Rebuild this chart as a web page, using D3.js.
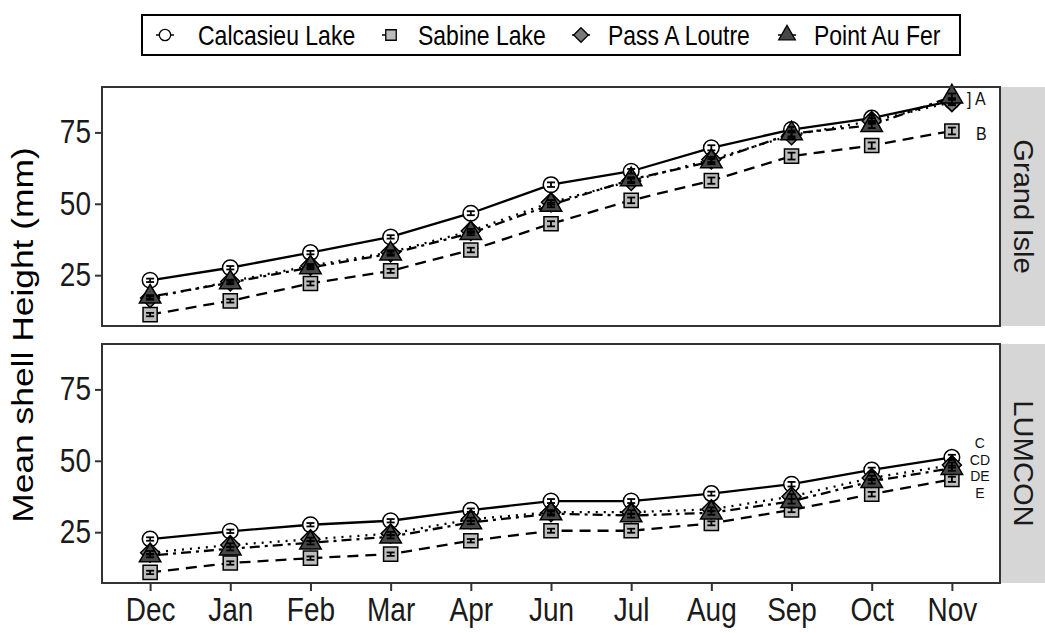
<!DOCTYPE html>
<html>
<head>
<meta charset="utf-8">
<script src="https://cdn.jsdelivr.net/npm/d3@7"></script>
<style>
  body { margin: 0; background: #fff; }
  svg { display: block; }
  text { font-family: "Liberation Sans", Arial, sans-serif; }
</style>
</head>
<body>
<svg id="chart" width="1045" height="633"></svg>
<script>
// Sampling months and sites
const months = ["Dec", "Jan", "Feb", "Mar", "Apr", "Jun", "Jul", "Aug", "Sep", "Oct", "Nov"];
const sites = ["Calcasieu Lake", "Sabine Lake", "Pass A Loutre", "Point Au Fer"];
const panels = ["Grand Isle", "LUMCON"];
const yTicks = [25, 50, 75];

// Mean shell height (mm), Grand Isle grow-out site
const grandIsleCalcasieu = [23.2, 27.6, 32.9, 38.4, 46.7, 56.7, 61.4, 69.6, 76.0, 80.0, 86.0];
const grandIsleSabine    = [11.2, 16.0, 22.1, 26.5, 33.8, 43.0, 51.2, 58.1, 66.7, 70.4, 75.5];
const grandIslePass      = [17.0, 22.8, 28.3, 33.0, 40.5, 50.5, 58.0, 65.5, 74.0, 79.0, 85.6];
const grandIslePoint     = [17.4, 22.4, 27.7, 32.5, 39.7, 49.6, 58.5, 64.8, 74.6, 77.5, 87.5];

// Mean shell height (mm), LUMCON grow-out site
const lumconCalcasieu = [22.6, 25.3, 27.6, 29.0, 32.7, 35.9, 35.9, 38.5, 41.8, 46.8, 51.2];
const lumconSabine    = [10.9, 14.2, 15.9, 17.3, 22.0, 25.5, 25.5, 28.1, 32.8, 38.3, 43.5];
const lumconPass      = [17.8, 20.5, 22.5, 24.5, 29.5, 32.0, 32.0, 33.0, 37.5, 44.0, 48.5];
const lumconPoint     = [16.8, 19.2, 21.3, 23.4, 28.4, 31.5, 30.8, 31.8, 35.8, 42.8, 47.4];

// Standard errors (mm)
const grandIsleSE = [
  [0.6, 0.6, 0.6, 0.6, 0.7, 0.8, 0.8, 0.9, 0.9, 1.0, 1.0],
  [0.6, 0.6, 0.7, 0.7, 0.8, 0.9, 1.0, 1.1, 1.2, 1.1, 1.2],
  [0.6, 0.6, 0.6, 0.7, 0.7, 0.8, 0.8, 0.9, 1.0, 1.0, 1.1],
  [0.6, 0.6, 0.6, 0.7, 0.7, 0.8, 0.8, 0.9, 1.0, 1.0, 1.1]
];
const lumconSE = [
  [0.6, 0.6, 0.6, 0.6, 0.6, 0.7, 0.7, 0.7, 0.8, 0.8, 0.9],
  [0.6, 0.6, 0.6, 0.6, 0.6, 0.7, 0.7, 0.7, 0.8, 0.8, 0.9],
  [0.6, 0.6, 0.6, 0.6, 0.6, 0.7, 0.7, 0.7, 0.8, 0.8, 0.9],
  [0.6, 0.6, 0.6, 0.6, 0.6, 0.7, 0.7, 0.7, 0.8, 0.8, 0.9]
];

// Significance groups at the last month
const grandIsleGroups = [{ text: "] A", value: 87.0, dx: 15 }, { text: "B", value: 74.6, dx: 24 }];
const lumconGroups = [
  { text: "C", value: 56.2 }, { text: "CD", value: 50.4 },
  { text: "DE", value: 44.6 }, { text: "E", value: 38.8 }
];

const panelSeries = [
  [grandIsleCalcasieu, grandIsleSabine, grandIslePass, grandIslePoint],
  [lumconCalcasieu, lumconSabine, lumconPass, lumconPoint]
];
const panelSE = [grandIsleSE, lumconSE];

// Styling per site
const dashes = [null, "11,7", "2,6", "3,5,10,5"];
const fills = ["#ffffff", "#bdbdbd", "#7a7a7a", "#474747"];
const symbols = [d3.symbolCircle, d3.symbolSquare, d3.symbolDiamond2, d3.symbolTriangle];
const symbolSizes = [190, 200, 230, 200];
const legendSizes = [100, 110, 135, 120];

// glyphs are drawn slightly tall, as in the printed figure
const stretch = 1.18;

const svg = d3.select("#chart");
const left = 102, right = 1000, stripRight = 1045;
const panelTops = [87, 344], panelH = 239;

const x = d3.scalePoint().domain(months).range([left, right]).padding(0.6);

// Legend
const legend = svg.append("g");
legend.append("rect")
  .attr("x", 142).attr("y", 15).attr("width", 818).attr("height", 40)
  .attr("fill", "#fff").attr("stroke", "#000").attr("stroke-width", 2);
const legendX = [165, 391, 581, 787];
sites.forEach((s, i) => {
  const g = legend.append("g").attr("transform", `translate(${legendX[i]},35)`);
  g.append("line").attr("x1", -9).attr("x2", 9)
    .attr("stroke", "#000").attr("stroke-width", 1.5)
    .attr("stroke-dasharray", dashes[i]);
  g.append("path")
    .attr("d", d3.symbol().type(symbols[i]).size(legendSizes[i])())
    .attr("fill", fills[i]).attr("stroke", "#000").attr("stroke-width", 1.3);
  g.append("text").attr("transform", `translate(${i === 0 ? 33 : 27},0) scale(1,${stretch})`)
    .attr("dy", "0.36em")
    .attr("font-size", 23).attr("fill", "#000").text(s);
});

panels.forEach((name, p) => {
  const top = panelTops[p], bottom = top + panelH;
  const y = d3.scaleLinear().domain([7.2, 90.9]).range([bottom, top]);
  const g = svg.append("g");

  // panel background and strip
  g.append("rect").attr("x", left).attr("y", top).attr("width", right - left).attr("height", panelH)
    .attr("fill", "#fff");
  g.append("rect").attr("x", right).attr("y", top).attr("width", stripRight - right).attr("height", panelH)
    .attr("fill", "#d6d6d6");
  g.append("text")
    .attr("transform", `translate(${(right + stripRight) / 2 + 1},${top + panelH / 2}) rotate(90) scale(1.08,1)`)
    .attr("text-anchor", "middle").attr("dy", "0.36em")
    .attr("font-size", 27).attr("fill", "#1a1a1a").text(name);

  // y axis
  const yAxis = g.append("g").attr("transform", `translate(${left},0)`)
    .call(d3.axisLeft(y).tickValues(yTicks).tickSize(7).tickPadding(4));
  yAxis.select(".domain").remove();
  yAxis.selectAll(".tick line").attr("stroke", "#333").attr("stroke-width", 2);
  yAxis.selectAll(".tick text").attr("font-size", 28).attr("fill", "#1a1a1a")
    .attr("font-family", '"Liberation Sans", Arial, sans-serif')
    .attr("transform", `scale(1,${stretch})`);

  // x axis only under the bottom panel
  if (p === panels.length - 1) {
    const xAxis = g.append("g").attr("transform", `translate(0,${bottom})`)
      .call(d3.axisBottom(x).tickSize(8).tickPadding(4));
    xAxis.select(".domain").remove();
    xAxis.selectAll(".tick line").attr("stroke", "#333").attr("stroke-width", 2);
    xAxis.selectAll(".tick text").attr("font-size", 28).attr("fill", "#1a1a1a")
      .attr("font-family", '"Liberation Sans", Arial, sans-serif')
      .attr("transform", `scale(1,${stretch})`);
  }

  const series = panelSeries[p];
  const line = d3.line().x((d, i) => x(months[i])).y(d => y(d));

  series.forEach((vals, i) => {
    g.append("path").datum(vals).attr("d", line)
      .attr("fill", "none").attr("stroke", "#000").attr("stroke-width", 2.3)
      .attr("stroke-dasharray", dashes[i]);
  });

  series.forEach((vals, i) => {
    g.selectAll(null).data(vals).join("path")
      .attr("transform", (d, j) => `translate(${x(months[j])},${y(d)})`)
      .attr("d", d3.symbol().type(symbols[i]).size(symbolSizes[i])())
      .attr("fill", fills[i]).attr("stroke", "#000").attr("stroke-width", 1.5);
  });

  // error bars
  series.forEach((vals, i) => {
    const se = panelSE[p][i];
    vals.forEach((v, j) => {
      const cx = x(months[j]);
      const eg = g.append("g").attr("stroke", "#000").attr("stroke-width", 1.8);
      eg.append("line").attr("x1", cx).attr("x2", cx).attr("y1", y(v - se[j])).attr("y2", y(v + se[j]));
      eg.append("line").attr("x1", cx - 4).attr("x2", cx + 4).attr("y1", y(v - se[j])).attr("y2", y(v - se[j]));
      eg.append("line").attr("x1", cx - 4).attr("x2", cx + 4).attr("y1", y(v + se[j])).attr("y2", y(v + se[j]));
    });
  });

  // significance letters
  const lastX = x(months[months.length - 1]);
  const groups = p === 0 ? grandIsleGroups : lumconGroups;
  groups.forEach(gr => {
    const tx = p === 0 ? lastX + gr.dx : lastX + 28;
    g.append("text")
      .attr("transform", `translate(${tx},${y(gr.value)})` + (p === 0 ? ` scale(1,${stretch})` : ""))
      .attr("dy", "0.36em")
      .attr("text-anchor", p === 0 ? "start" : "middle")
      .attr("font-size", p === 0 ? 16 : 14).attr("fill", "#111").text(gr.text);
  });

  // panel border
  g.append("rect").attr("x", left).attr("y", top).attr("width", right - left).attr("height", panelH)
    .attr("fill", "none").attr("stroke", "#333").attr("stroke-width", 2);
});

// y axis title
svg.append("text")
  .attr("transform", `translate(22,335) rotate(-90) scale(${stretch},1)`)
  .attr("text-anchor", "middle").attr("dy", "0.36em")
  .attr("font-size", 30).attr("fill", "#000").text("Mean shell Height (mm)");
</script>
</body>
</html>
